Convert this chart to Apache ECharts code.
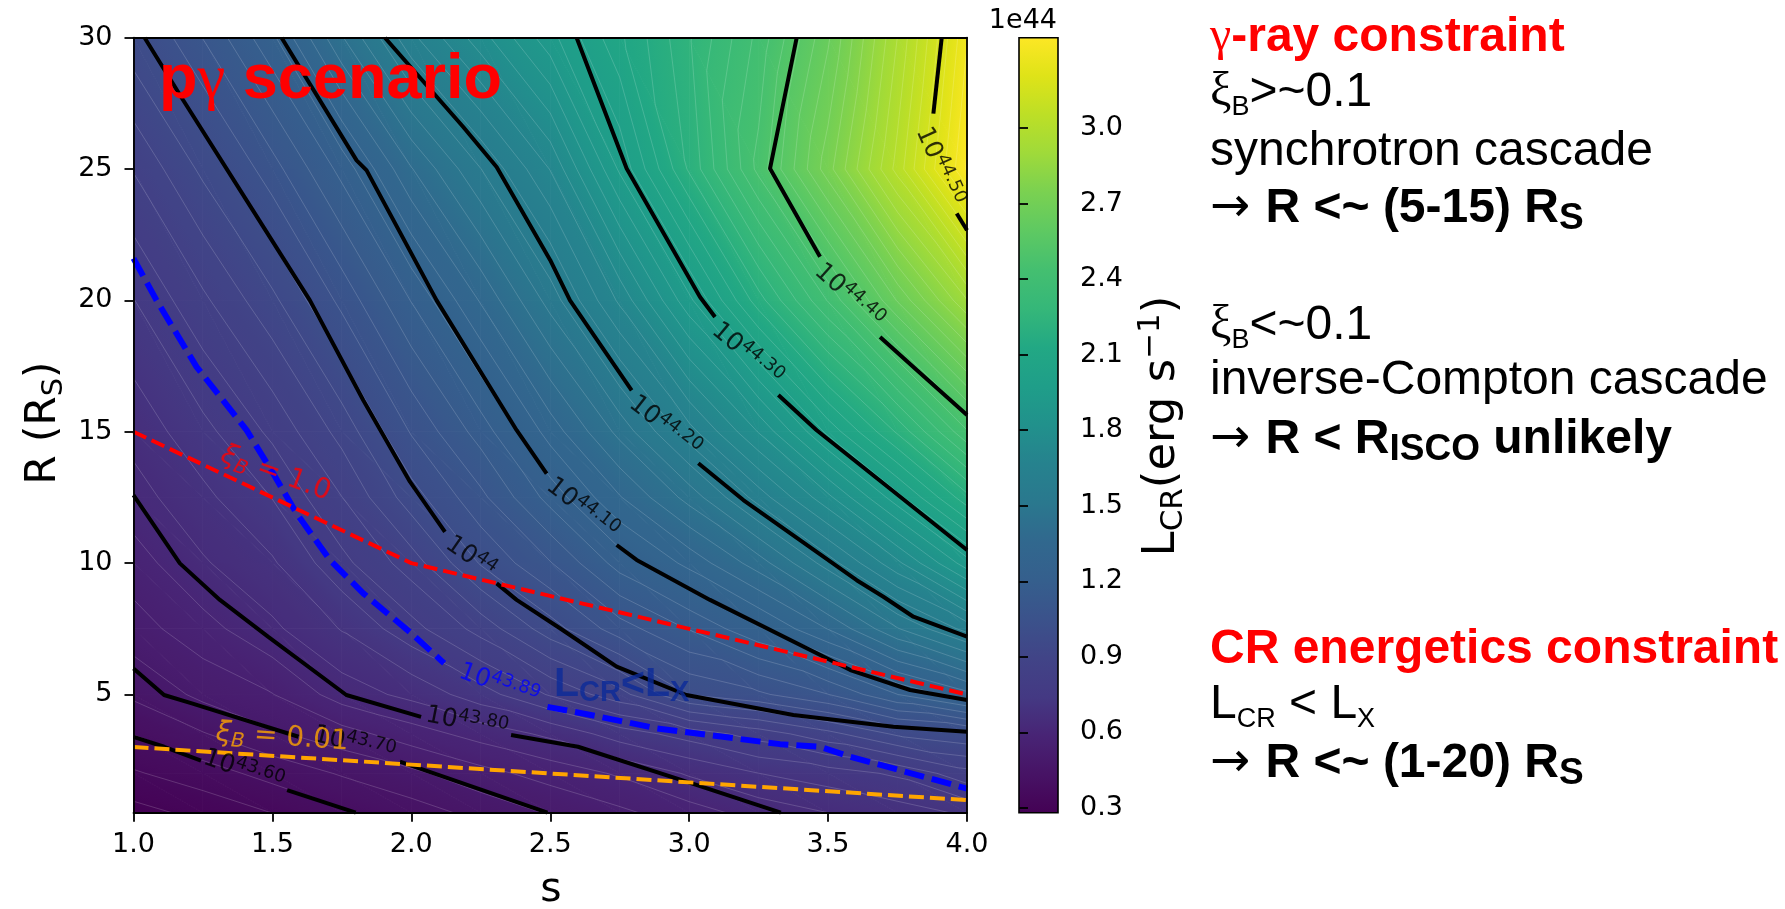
<!DOCTYPE html>
<html><head><meta charset="utf-8">
<script src="https://cdn.jsdelivr.net/npm/echarts@6/dist/echarts.min.js"></script>
<style>html,body{margin:0;padding:0;background:#fff}#c{width:1785px;height:909px}</style>
</head><body><div id="c"></div>
<script>
// ---------------- data ----------------
const sValues = [1.0, 1.25, 1.5, 1.75, 2.0, 2.25, 2.5, 2.75, 3.0, 3.25, 3.5, 3.75, 4.0];
const rValues = [0.5, 2, 3.5, 5, 7.5, 10, 12.5, 15, 20, 25, 30];
// log10(L_CR / erg s^-1) at each (s, R) node, one row per R value
const logL_R00_5 = [43.450, 43.498, 43.545, 43.593, 43.631, 43.667, 43.703, 43.732, 43.762, 43.792, 43.813, 43.830, 43.850];
const logL_R02_0 = [43.537, 43.577, 43.621, 43.658, 43.689, 43.727, 43.756, 43.783, 43.817, 43.845, 43.861, 43.880, 43.920];
const logL_R03_5 = [43.604, 43.650, 43.691, 43.724, 43.761, 43.792, 43.820, 43.860, 43.887, 43.915, 43.946, 43.982, 43.996];
const logL_R05_0 = [43.662, 43.710, 43.739, 43.795, 43.822, 43.862, 43.906, 43.945, 44.001, 44.017, 44.041, 44.079, 44.109];
const logL_R07_5 = [43.723, 43.764, 43.806, 43.847, 43.893, 43.939, 43.990, 44.032, 44.062, 44.094, 44.131, 44.175, 44.209];
const logL_R10_0 = [43.761, 43.809, 43.841, 43.895, 43.942, 44.002, 44.040, 44.087, 44.119, 44.154, 44.197, 44.240, 44.285];
const logL_R12_5 = [43.799, 43.837, 43.876, 43.929, 43.990, 44.036, 44.086, 44.129, 44.167, 44.210, 44.252, 44.297, 44.339];
const logL_R15_0 = [43.824, 43.866, 43.909, 43.963, 44.023, 44.069, 44.121, 44.166, 44.212, 44.256, 44.304, 44.344, 44.388];
const logL_R20_0 = [43.874, 43.924, 43.972, 44.027, 44.080, 44.132, 44.182, 44.233, 44.287, 44.338, 44.381, 44.424, 44.462];
const logL_R25_0 = [43.931, 43.983, 44.033, 44.085, 44.145, 44.190, 44.231, 44.292, 44.344, 44.392, 44.436, 44.480, 44.526];
const logL_R30_0 = [43.992, 44.042, 44.093, 44.160, 44.214, 44.250, 44.286, 44.320, 44.351, 44.383, 44.422, 44.470, 44.518];
const logLGrid = [logL_R00_5, logL_R02_0, logL_R03_5, logL_R05_0, logL_R07_5, logL_R10_0, logL_R12_5, logL_R15_0, logL_R20_0, logL_R25_0, logL_R30_0];

// contour lines [s, R], split where the inline labels sit
const contour43_60 = [[[1.0,3.39],[1.11,3.01],[1.243,2.48]], [[1.553,1.36],[1.80,0.5]]];
const contour43_70 = [[[1.0,5.99],[1.11,4.98],[1.21,4.66],[1.594,3.39]], [[1.959,2.44],[2.49,0.5]]];
const contour43_80 = [[[1.0,12.59],[1.167,9.99],[1.311,8.6],[1.484,7.2],[1.766,4.98],[2.035,4.15]], [[2.359,3.46],[2.6,3.01],[2.99,1.68],[3.33,0.5]]];
const contour44_00 = [[[1.04,30],[1.179,27.62],[1.407,23.81],[1.635,20.0],[1.827,16.2],[1.995,13.1],[2.121,11.19]], [[2.307,9.23],[2.379,8.6],[2.535,7.52],[2.739,6.06],[2.99,4.98],[3.375,4.22],[3.735,3.77],[4.0,3.58]]];
const contour44_10 = [[[1.533,30],[1.803,25.33],[1.839,24.95],[2.091,20.0],[2.379,15.06],[2.487,13.41]], [[2.739,10.69],[2.811,10.12],[3.075,8.6],[3.58,5.93],[3.795,5.17],[4.0,4.79]]];
const contour44_20 = [[[1.905,30],[2.187,26.6],[2.307,25.08],[2.5,21.53],[2.571,20.0],[2.793,16.58]], [[3.033,13.8],[3.195,12.4],[3.603,9.35],[3.699,8.72],[3.807,7.96],[4.0,7.2]]];
const contour44_30 = [[[2.595,30],[2.775,25.02],[3.039,20.13],[3.093,19.37]], [[3.321,16.4],[3.459,15.06],[4.0,10.5]]];
const contour44_40 = [[[3.387,30],[3.291,25.02],[3.471,21.66]], [[3.687,18.61],[3.819,17.35],[4.0,15.64]]];
const contour44_50 = [[[3.909,30],[3.879,27.11]], [[3.963,23.31],[4.0,22.67]]];
// L_CR = L_X contour (10^43.89)
const contour43_89 = [[[1.0,21.6],[1.083,20.0],[1.227,17.47],[1.407,15.06],[1.503,13.41],[1.587,11.89],[1.707,10.12],[1.827,8.85],[2.0,7.33],[2.118,6.19]], [[2.49,4.53],[2.679,4.15],[2.883,3.71],[3.327,3.11],[3.471,3.01],[3.58,2.63],[4.0,1.42]]];
// magnetisation lines
const xiB1Line = [[1.0,15.0],[2.0,10.0],[4.0,5.0]];
const xiB001Line = [[1.0,3.0],[2.0,2.33],[4.0,0.98]];

// contour labels
const contourLabelExp = ['43.60','43.70','43.80','43.89','44','44.10','44.20','44.30','44.40','44.50'];
const contourLabelPos = [[1.396,2.1],[1.795,3.1],[2.20,3.92],[2.315,5.36],[2.213,10.22],[2.615,12.07],[2.912,15.2],[3.208,17.95],[3.575,20.17],[3.90,25.1]];
const contourLabelRot = [-19,-14,-11,-20,-35,-38,-38,-40,-42,-66];

// colour bar (units of 1e44 erg/s)
const cbMin = 0.2813, cbMax = 3.3585;
const cbTicks = [0.3,0.6,0.9,1.2,1.5,1.8,2.1,2.4,2.7,3.0];
const xTicks = [1.0,1.5,2.0,2.5,3.0,3.5,4.0];
const yTicks = [5,10,15,20,25,30];

// ---------------- colour map ----------------
const viridisStops = [[0.00,[68,1,84]],[0.05,[71,19,101]],[0.10,[72,36,117]],[0.15,[68,57,131]],[0.20,[65,68,135]],[0.25,[59,82,139]],[0.30,[53,95,141]],[0.35,[49,104,142]],[0.40,[42,120,142]],[0.45,[38,130,142]],[0.50,[33,145,140]],[0.55,[31,158,137]],[0.60,[34,168,132]],[0.65,[53,183,121]],[0.70,[68,191,112]],[0.75,[94,201,98]],[0.80,[122,209,81]],[0.85,[159,218,58]],[0.90,[189,223,38]],[0.95,[223,227,24]],[1.00,[253,231,37]]];
function viridis(t){
  t = Math.max(0, Math.min(1, t));
  for (let k=0;k<viridisStops.length-1;k++){
    const a=viridisStops[k], b=viridisStops[k+1];
    if (t<=b[0]){
      const f=(t-a[0])/(b[0]-a[0]);
      const c=a[1].map((v,i)=>Math.round(v+f*(b[1][i]-v)));
      return 'rgb('+c[0]+','+c[1]+','+c[2]+')';
    }
  }
  return 'rgb(253,231,37)';
}
function colorOf(L){ return viridis((L-cbMin)/(cbMax-cbMin)); }

const seamLevels = [];
for (let k=0;k<=61;k++){ seamLevels.push(0.30 + 0.05*k); }

function triFill(P, A){
  const [p0,p1,p2]=P, [a0,a1,a2]=A;
  const amin=Math.min(a0,a1,a2), amax=Math.max(a0,a1,a2);
  const d1x=p1[0]-p0[0], d1y=p1[1]-p0[1], d2x=p2[0]-p0[0], d2y=p2[1]-p0[1];
  const det=d1x*d2y-d1y*d2x;
  if (amax-amin<1e-9 || Math.abs(det)<1e-9) return colorOf((amin+amax)/2);
  const gx=((a1-a0)*d2y-(a2-a0)*d1y)/det;
  const gy=((a2-a0)*d1x-(a1-a0)*d2x)/det;
  const g2=gx*gx+gy*gy;
  const sx=p0[0]+(amin-a0)*gx/g2, sy=p0[1]+(amin-a0)*gy/g2;
  const ex=p0[0]+(amax-a0)*gx/g2, ey=p0[1]+(amax-a0)*gy/g2;
  const stops=[];
  for (let k=0;k<=6;k++){ const t=k/6; stops.push({offset:t, color:colorOf(amin+t*(amax-amin))}); }
  return {type:'linear', x:sx, y:sy, x2:ex, y2:ey, global:true, colorStops:stops};
}
function triSeams(out, P, A){
  const amin=Math.min(...A), amax=Math.max(...A);
  for (const lev of seamLevels){
    if (lev<=amin || lev>=amax) continue;
    const pts=[];
    for (const [ia,ib] of [[0,1],[1,2],[2,0]]){
      const va=A[ia], vb=A[ib];
      if ((lev-va)*(lev-vb)<0){
        const f=(lev-va)/(vb-va);
        pts.push([P[ia][0]+f*(P[ib][0]-P[ia][0]), P[ia][1]+f*(P[ib][1]-P[ia][1])]);
      }
    }
    if (pts.length>=2) out.push({type:'line', silent:true, shape:{x1:pts[0][0],y1:pts[0][1],x2:pts[1][0],y2:pts[1][1]}, style:{stroke:'rgba(255,255,255,0.24)', lineWidth:0.7}});
  }
}
function cellGeometry(api){
  const i=api.value(2), j=api.value(3);
  const c=(ii,jj)=>api.coord([sValues[ii], rValues[jj]]);
  const v=(ii,jj)=>Math.pow(10, logLGrid[jj][ii]-44);
  return {
    t1:[[c(i,j),c(i+1,j),c(i,j+1)],[v(i,j),v(i+1,j),v(i,j+1)]],
    t2:[[c(i+1,j),c(i+1,j+1),c(i,j+1)],[v(i+1,j),v(i+1,j+1),v(i,j+1)]]
  };
}
function renderFill(params, api){
  const g=cellGeometry(api), children=[];
  for (const t of [g.t1,g.t2]){
    const f=triFill(t[0],t[1]);
    children.push({type:'polygon', silent:true, shape:{points:t[0]}, style:{fill:f, stroke:f, lineWidth:0.9}});
  }
  return {type:'group', children};
}
function renderSeams(params, api){
  const g=cellGeometry(api), children=[];
  triSeams(children, g.t1[0], g.t1[1]);
  triSeams(children, g.t2[0], g.t2[1]);
  return {type:'group', children};
}
const cellData=[];
for (let j=0;j<rValues.length-1;j++) for (let i=0;i<sValues.length-1;i++) cellData.push([sValues[i], rValues[j], i, j]);

// ---------------- series ----------------
const FONT='DejaVu Sans';
const series=[];
series.push({type:'custom', xAxisIndex:0, yAxisIndex:0, data:cellData, encode:{x:0,y:1}, renderItem:renderFill, z:1, silent:true});
series.push({type:'custom', xAxisIndex:0, yAxisIndex:0, data:cellData, encode:{x:0,y:1}, renderItem:renderSeams, z:2, silent:true});
function addLines(segs, style, z){
  for (const seg of segs){
    series.push({type:'line', xAxisIndex:0, yAxisIndex:0, data:seg, symbol:'none', showSymbol:false, silent:true, z:z, lineStyle:style});
  }
}
const black={color:'#000', width:4};
[contour43_60,contour43_70,contour43_80,contour44_00,contour44_10,contour44_20,contour44_30,contour44_40,contour44_50].forEach(c=>addLines(c, black, 3));
addLines(contour43_89, {color:'#0000ff', width:6, type:[20,8]}, 4);
addLines([xiB1Line], {color:'#ff0000', width:4, type:[14,6]}, 4);
addLines([xiB001Line], {color:'#ffa500', width:4, type:[15,6]}, 4);

const labelRich={
  b:{fontFamily:FONT, fontSize:25, lineHeight:30},
  s:{fontFamily:FONT, fontSize:18, lineHeight:18, verticalAlign:'top'},
  xi:{fontFamily:FONT, fontSize:28, lineHeight:34, fontStyle:'italic'},
  xs:{fontFamily:FONT, fontSize:20, lineHeight:17, verticalAlign:'bottom', fontStyle:'italic'},
  xn:{fontFamily:FONT, fontSize:28, lineHeight:34},
  L:{fontFamily:'Liberation Sans', fontSize:41, lineHeight:44, fontWeight:'bold'},
  Ls:{fontFamily:'Liberation Sans', fontSize:29, lineHeight:18, fontWeight:'bold', verticalAlign:'bottom'}
};
const labelData=[];
contourLabelExp.forEach((e,k)=>{
  const col = e==='43.89' ? '#0000ff' : '#000';
  labelData.push({value:contourLabelPos[k], label:{rotate:contourLabelRot[k], color:col, formatter:'{b|10}{s|'+e+'}'}});
});
labelData.push({value:[1.512,13.41], label:{rotate:-20, color:'#ff0000', formatter:'{xi|ξ}{xs|B}{xn| = 1.0}'}});
labelData.push({value:[1.535,3.36], label:{rotate:-4, color:'#ffa500', formatter:'{xi|ξ}{xs|B}{xn| = 0.01}'}});
labelData.push({value:[2.757,5.36], label:{rotate:0, color:'#0b2a99', formatter:'{L|L}{Ls|CR}{L|<L}{Ls|X}'}});
series.push({type:'scatter', xAxisIndex:0, yAxisIndex:0, data:labelData, symbol:'circle', symbolSize:0.1, itemStyle:{color:'rgba(0,0,0,0)'}, z:6, silent:true,
  label:{show:true, position:'inside', rich:labelRich}});

// colour bar
series.push({type:'custom', xAxisIndex:2, yAxisIndex:2, data:[[0,cbMin,1,cbMax]], encode:{x:0,y:1}, z:2, silent:true,
  renderItem:function(params, api){
    const p0=api.coord([api.value(0), api.value(1)]), p1=api.coord([api.value(2), api.value(3)]);
    const stops=viridisStops.map(s=>({offset:s[0], color:'rgb('+s[1].join(',')+')'}));
    return {type:'rect', shape:{x:p0[0], y:p1[1], width:p1[0]-p0[0], height:p0[1]-p1[1]},
      style:{fill:{type:'linear', x:0, y:1, x2:0, y2:0, colorStops:stops}, stroke:'#000', lineWidth:1.6}};
  }});

// ---------------- axes ----------------
const axLine={show:true, onZero:false, lineStyle:{color:'#000', width:1.8}};
const tickStyle={color:'#000', width:1.8};
const lbl={color:'#000', fontFamily:FONT, fontSize:27};
const option={
  animation:false,
  textStyle:{fontFamily:FONT},
  grid:[
    {left:133.5, top:37.7, width:833.5, height:775, containLabel:false},
    {left:1019, top:37.7, width:39, height:775, containLabel:false}
  ],
  xAxis:[
    {type:'value', gridIndex:0, position:'bottom', min:1, max:4, interval:0.5, z:10,
     axisLine:axLine, axisTick:{show:true, inside:false, length:9, lineStyle:tickStyle},
     axisLabel:Object.assign({margin:19, formatter:v=>v.toFixed(1)}, lbl), splitLine:{show:false}},
    {type:'value', gridIndex:0, position:'top', min:1, max:4, z:10, axisLine:axLine, axisTick:{show:false}, axisLabel:{show:false}, splitLine:{show:false}},
    {type:'value', gridIndex:1, min:0, max:1, show:false}
  ],
  yAxis:[
    {type:'value', gridIndex:0, position:'left', min:0.5, max:30, z:10,
     axisLine:axLine, axisTick:{show:true, inside:false, length:9, lineStyle:tickStyle, customValues:yTicks},
     axisLabel:Object.assign({margin:21, customValues:yTicks, formatter:v=>String(v)}, lbl), splitLine:{show:false}},
    {type:'value', gridIndex:0, position:'right', min:0.5, max:30, z:10, axisLine:axLine, axisTick:{show:false}, axisLabel:{show:false}, splitLine:{show:false}},
    {type:'value', gridIndex:1, position:'right', min:cbMin, max:cbMax, z:10,
     axisLine:{show:false}, axisTick:{show:true, inside:false, length:9, lineStyle:tickStyle, customValues:cbTicks},
     axisLabel:Object.assign({margin:22, customValues:cbTicks, formatter:v=>v.toFixed(1)}, lbl), splitLine:{show:false}}
  ],
  series:series
};

// ---------------- annotation texts ----------------
const RF=48, RLH=57;
const sans='Liberation Sans', serif='Liberation Serif';
function subH(F,LH,f,d){ return LH-0.7*F-2*d+0.7*f; }
const rightRich={
  r:{fontFamily:sans, fontSize:RF, lineHeight:RLH, fill:'#000'},
  ar:{fontFamily:FONT, fontSize:RF, lineHeight:RLH, fill:'#000'},
  rb:{fontFamily:sans, fontSize:RF, lineHeight:RLH, fontWeight:'bold', fill:'#000'},
  redb:{fontFamily:sans, fontSize:RF, lineHeight:RLH, fontWeight:'bold', fill:'#ff0000'},
  gam:{fontFamily:serif, fontSize:RF, lineHeight:RLH, fill:'#ff0000'},
  xi:{fontFamily:serif, fontSize:RF, lineHeight:RLH, fill:'#000'},
  subB:{fontFamily:sans, fontSize:27, lineHeight:subH(RF,RLH,27,9), verticalAlign:'bottom', fill:'#000'},
  subSb:{fontFamily:sans, fontSize:37, lineHeight:subH(RF,RLH,37,9), verticalAlign:'bottom', fontWeight:'bold', fill:'#000'},
  subCR:{fontFamily:sans, fontSize:27, lineHeight:subH(RF,RLH,27,10), verticalAlign:'bottom', fill:'#000'}
};
const rightLines=[
  [54,'{gam|γ}{redb|-ray constraint}'],
  [109,'{xi|ξ}{subB|B}{r|>~0.1}'],
  [168,'{r|synchrotron cascade}'],
  [225,'{ar|→ }{rb|R <~ (5-15) R}{subSb|S}'],
  [342,'{xi|ξ}{subB|B}{r|<~0.1}'],
  [397,'{r|inverse-Compton cascade}'],
  [456,'{ar|→ }{rb|R < R}{subSb|ISCO}{rb| unlikely}'],
  [666,'{redb|CR energetics constraint}'],
  [721,'{r|L}{subCR|CR}{r| < L}{subCR|X}'],
  [780,'{ar|→ }{rb|R <~ (1-20) R}{subSb|S}']
];
const graphics=[];
rightLines.forEach(([b,t])=>{
  graphics.push({type:'text', x:1210, y:b-0.3465*RF, z:100, silent:true,
    style:{text:t, rich:rightRich, fontFamily:sans, fontSize:RF, lineHeight:RLH, align:'left', verticalAlign:'middle', fill:'#000'}});
});
// p-gamma scenario
graphics.push({type:'text', x:159, y:102-0.3465*63, z:100, silent:true,
  style:{text:'{p|p}{g|γ}{p| scenario}', align:'left', verticalAlign:'middle', fontSize:63, lineHeight:66,
    rich:{p:{fontFamily:sans, fontSize:63, lineHeight:66, fontWeight:'bold', fill:'#ff0000'}, g:{fontFamily:serif, fontSize:63, lineHeight:66, fill:'#ff0000'}}}});
// axis names
graphics.push({type:'text', x:551, y:905-0.3465*41, z:100, silent:true,
  style:{text:'s', fontFamily:FONT, fontSize:41, align:'center', verticalAlign:'middle', fill:'#000'}});
graphics.push({type:'text', x:44, y:423, rotation:Math.PI/2, z:100, silent:true,
  style:{text:'{m|R (R}{sb|S}{m|)}', align:'center', verticalAlign:'middle', fontSize:42, lineHeight:50,
    rich:{m:{fontFamily:FONT, fontSize:42, lineHeight:50, fill:'#000'}, sb:{fontFamily:FONT, fontSize:29, lineHeight:subH(42,50,29,6), verticalAlign:'bottom', fill:'#000'}}}});
graphics.push({type:'text', x:1162, y:426, rotation:Math.PI/2, z:100, silent:true,
  style:{text:'{m|L}{sb|CR}{m|(erg s}{sp|−1}{m|)}', align:'center', verticalAlign:'middle', fontSize:45, lineHeight:54,
    rich:{m:{fontFamily:FONT, fontSize:45, lineHeight:54, fill:'#000'},
          sb:{fontFamily:FONT, fontSize:31, lineHeight:subH(45,54,31,5), verticalAlign:'bottom', fill:'#000'},
          sp:{fontFamily:FONT, fontSize:31, lineHeight:54+0.7*45-34-0.7*31, verticalAlign:'top', fill:'#000'}}}});
graphics.push({type:'text', x:1057, y:30-0.3465*27, z:100, silent:true,
  style:{text:'1e44', fontFamily:FONT, fontSize:27, align:'right', verticalAlign:'middle', fill:'#000'}});
option.graphic={elements:graphics};

const chart=echarts.init(document.getElementById('c'), null, {renderer:'canvas'});
chart.setOption(option);
</script></body></html>
